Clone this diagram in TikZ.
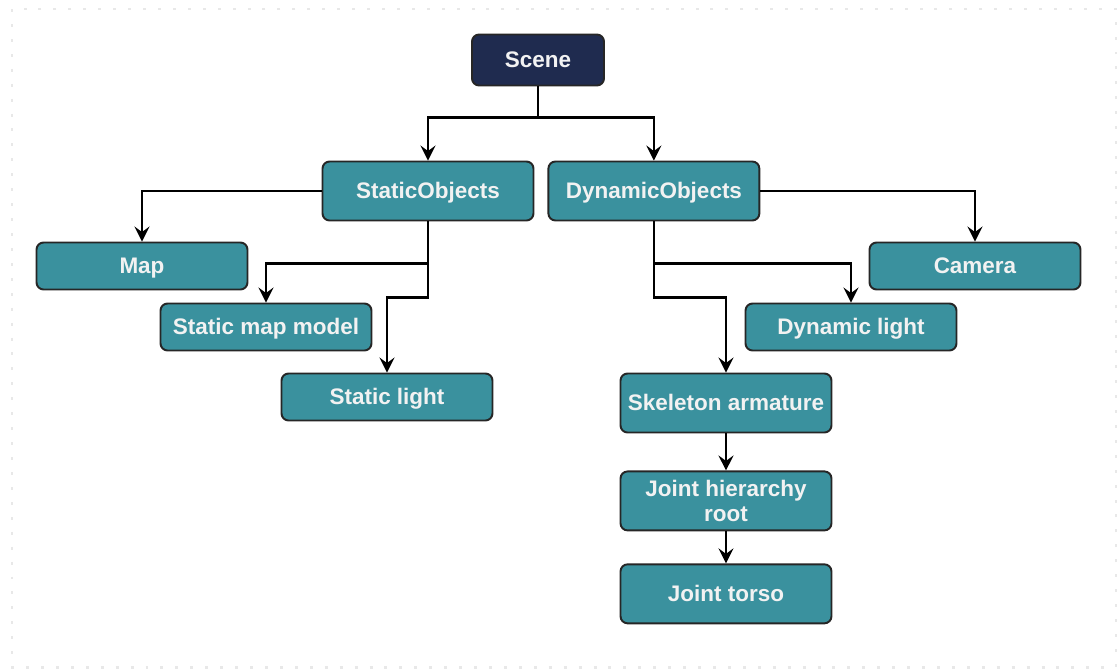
\documentclass[tikz,border=0pt]{standalone}
\usepackage{fontspec}
\setmainfont{Liberation Sans}
\usetikzlibrary{arrows.meta, positioning}
\definecolor{tealbox}{HTML}{3A919E}
\definecolor{navybox}{HTML}{1F2B4F}

\begin{document}
\begin{tikzpicture}[
        x=0.02cm, y=-0.02cm,
        font=\fontsize{12.8}{14.7}\selectfont\bfseries,
        box/.style={draw=black!85, line width=1.1pt, rounded corners=4pt, fill=tealbox, text=white!95!black, minimum width=4.22cm, minimum height=0.94cm, align=center, inner sep=2pt, text height=1.05em, text depth=0.18em},
        tall/.style={box, minimum height=1.18cm},
        arr/.style={-{Stealth[length=3mm, width=3mm, inset=1.1mm]}, line width=1.2pt, black}
    ]
        \useasboundingbox (0,0) rectangle (1117,670);
        \draw[black!9, line width=1.7pt, dash pattern=on 1.7pt off 6.8pt] (12,9) rectangle (1116,667);

        \node[box, fill=navybox, minimum width=2.64cm, minimum height=1.02cm] (scene) at (538,60) {Scene};
        \node[tall] (static) at (428,191) {StaticObjects};
        \node[tall, right=0.26cm of static] (dyn) {DynamicObjects};

        \node[box] (map)    at (142,266) {Map};
        \node[box] (smm)    at (266,327) {Static map model};
        \node[box] (slight) at (387,397) {Static light};

        \node[box]  (cam)    at (975,266) {Camera};
        \node[box]  (dlight) at (851,327) {Dynamic light};
        \node[tall] (skel)   at (726,403) {Skeleton armature};
        \node[tall, text height=, text depth=, below=0.74cm of skel] (root)  {Joint hierarchy\\root};
        \node[tall, below=0.64cm of root] (torso) {Joint torso};

        \draw[arr] (scene.south) -- ++(0,31) -| (static.north);
        \draw[arr] (scene.south) -- ++(0,31) -| (dyn.north);

        % static branch
        \draw[arr] (static.west) -| (map.north);
        \draw[arr] (static.south) -- ++(0,42) -| (smm.north);
        \draw[arr] (static.south) -- ++(0,76) -| (slight.north);

        % dynamic branch
        \draw[arr] (dyn.east) -| (cam.north);
        \draw[arr] (dyn.south) -- ++(0,42) -| (dlight.north);
        \draw[arr] (dyn.south) -- ++(0,76) -| (skel.north);
        \draw[arr] (skel) -- (root);
        \draw[arr] (root) -- (torso);
    \end{tikzpicture}
\end{document}
